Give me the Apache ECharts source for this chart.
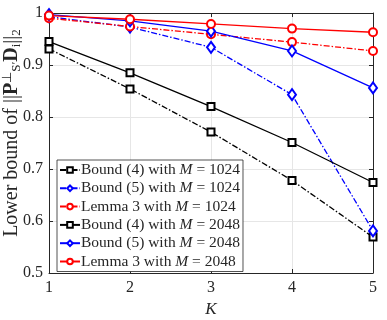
<!DOCTYPE html>
<html>
<head>
<meta charset="utf-8">
<script src="https://cdn.jsdelivr.net/npm/echarts@6/dist/echarts.min.js"></script>
<style>html,body{margin:0;padding:0;background:#fff}#main{width:387px;height:320px}</style>
</head>
<body>
<div id="main"></div>
<script>
var kList = [1, 2, 3, 4, 5];
var yTicks = [0.5, 0.6, 0.7, 0.8, 0.9, 1];
var bound4_1024 = [0.931, 0.854, 0.771, 0.678, 0.569];
var bound5_1024 = [0.993, 0.973, 0.934, 0.843, 0.581];
var lemma3_1024 = [0.990, 0.974, 0.959, 0.944, 0.927];
var bound4_2048 = [0.945, 0.885, 0.820, 0.751, 0.674];
var bound5_2048 = [0.997, 0.985, 0.965, 0.927, 0.856];
var lemma3_2048 = [0.995, 0.988, 0.979, 0.970, 0.963];

var font = 'Liberation Serif';
var axisColor = '#262626';
var dashDot = [6, 2, 1.5, 2];

function pairs(vals) {
    return vals.map(function (v, i) { return [kList[i], v]; });
}
function mk(name, vals, color, symbol, size, dashed) {
    return {
        name: name,
        type: 'line',
        data: pairs(vals),
        symbol: symbol,
        symbolSize: size,
        lineStyle: { color: color, width: 1.3, type: dashed ? dashDot : 'solid' },
        itemStyle: { color: color, borderColor: color, borderWidth: 1.2 },
        animation: false
    };
}
var names = [
    'Bound (4) with {i|M} = 1024',
    'Bound (5) with {i|M} = 1024',
    'Lemma 3 with {i|M} = 1024',
    'Bound (4) with {i|M} = 2048',
    'Bound (5) with {i|M} = 2048',
    'Lemma 3 with {i|M} = 2048'
];

var option = {
    backgroundColor: '#fff',
    grid: { left: 49, right: 14, top: 13, bottom: 47, outerBoundsMode: 'none', containLabel: false },
    legend: {
        orient: 'vertical',
        left: 57,
        top: 160,
        data: names,
        itemWidth: 20,
        itemHeight: 7,
        itemGap: 2.3,
        padding: [2, 3, 2, 2],
        backgroundColor: '#fff',
        borderColor: axisColor,
        borderWidth: 0.8,
        textStyle: {
            fontFamily: font, fontSize: 15.5, color: '#262626', lineHeight: 15, padding: [0, 0, 0, -4],
            rich: { i: { fontFamily: font, fontStyle: 'italic', fontSize: 15.5 } }
        }
    },
    xAxis: [{
        type: 'value',
        min: 1, max: 5, interval: 1,
        name: 'K',
        nameLocation: 'middle',
        nameGap: 28,
        nameMoveOverlap: false,
        nameTextStyle: { fontFamily: font, fontStyle: 'italic', fontSize: 17, color: '#262626' },
        axisLine: { lineStyle: { color: axisColor } },
        axisTick: { inside: true, length: 4, lineStyle: { color: axisColor } },
        axisLabel: { fontFamily: font, fontSize: 16, color: '#262626', margin: 7 },
        splitLine: { show: true, lineStyle: { color: '#e6e6e6', width: 1 } }
    }, {
        type: 'value', position: 'top',
        min: 1, max: 5, interval: 1,
        axisLine: { show: true, lineStyle: { color: axisColor } },
        axisTick: { show: true, inside: true, length: 4, lineStyle: { color: axisColor } },
        axisLabel: { show: false },
        splitLine: { show: false }
    }],
    yAxis: [{
        type: 'value',
        min: 0.5, max: 1, interval: 0.1,
        name: 'Lower bound of ||{b|P}{sup|⊥}{sub|S′}{b|D}{sub|i}||{sub|2}',
        nameLocation: 'middle',
        nameGap: 26,
        nameMoveOverlap: false,
        nameTextStyle: {
            fontFamily: font, fontSize: 20, color: '#262626', lineHeight: 22, padding: [0, 0, 0, 20],
            rich: {
                b: { fontFamily: font, fontWeight: 'bold', fontSize: 20, lineHeight: 22 },
                sup: { fontFamily: font, fontSize: 13, verticalAlign: 'top', lineHeight: 22, padding: [0, 0, 6, 0] },
                sub: { fontFamily: font, fontSize: 13, verticalAlign: 'bottom', lineHeight: 22 }
            }
        },
        axisLine: { show: true, lineStyle: { color: axisColor } },
        axisTick: { show: true, inside: true, length: 4, lineStyle: { color: axisColor } },
        axisLabel: {
            fontFamily: font, fontSize: 16, color: '#262626', margin: 6,
            formatter: function (v) { return v === 1 ? '1' : v.toFixed(1); }
        },
        splitLine: { show: true, lineStyle: { color: '#e6e6e6', width: 1 } }
    }, {
        type: 'value', position: 'right',
        min: 0.5, max: 1, interval: 0.1,
        axisLine: { show: true, lineStyle: { color: axisColor } },
        axisTick: { show: true, inside: true, length: 4, lineStyle: { color: axisColor } },
        axisLabel: { show: false },
        splitLine: { show: false }
    }],
    series: [
        mk(names[0], bound4_1024, '#000000', 'emptyRect', 7, true),
        mk(names[1], bound5_1024, '#0000ff', 'emptyDiamond', [8, 11], true),
        mk(names[2], lemma3_1024, '#ff0000', 'emptyCircle', 8, true),
        mk(names[3], bound4_2048, '#000000', 'emptyRect', 7, false),
        mk(names[4], bound5_2048, '#0000ff', 'emptyDiamond', [8, 11], false),
        mk(names[5], lemma3_2048, '#ff0000', 'emptyCircle', 8, false)
    ]
};

var dom = document.getElementById('main');
var myChart = echarts.init(dom, null, { renderer: 'canvas' });
myChart.setOption(option);
</script>
</body>
</html>
